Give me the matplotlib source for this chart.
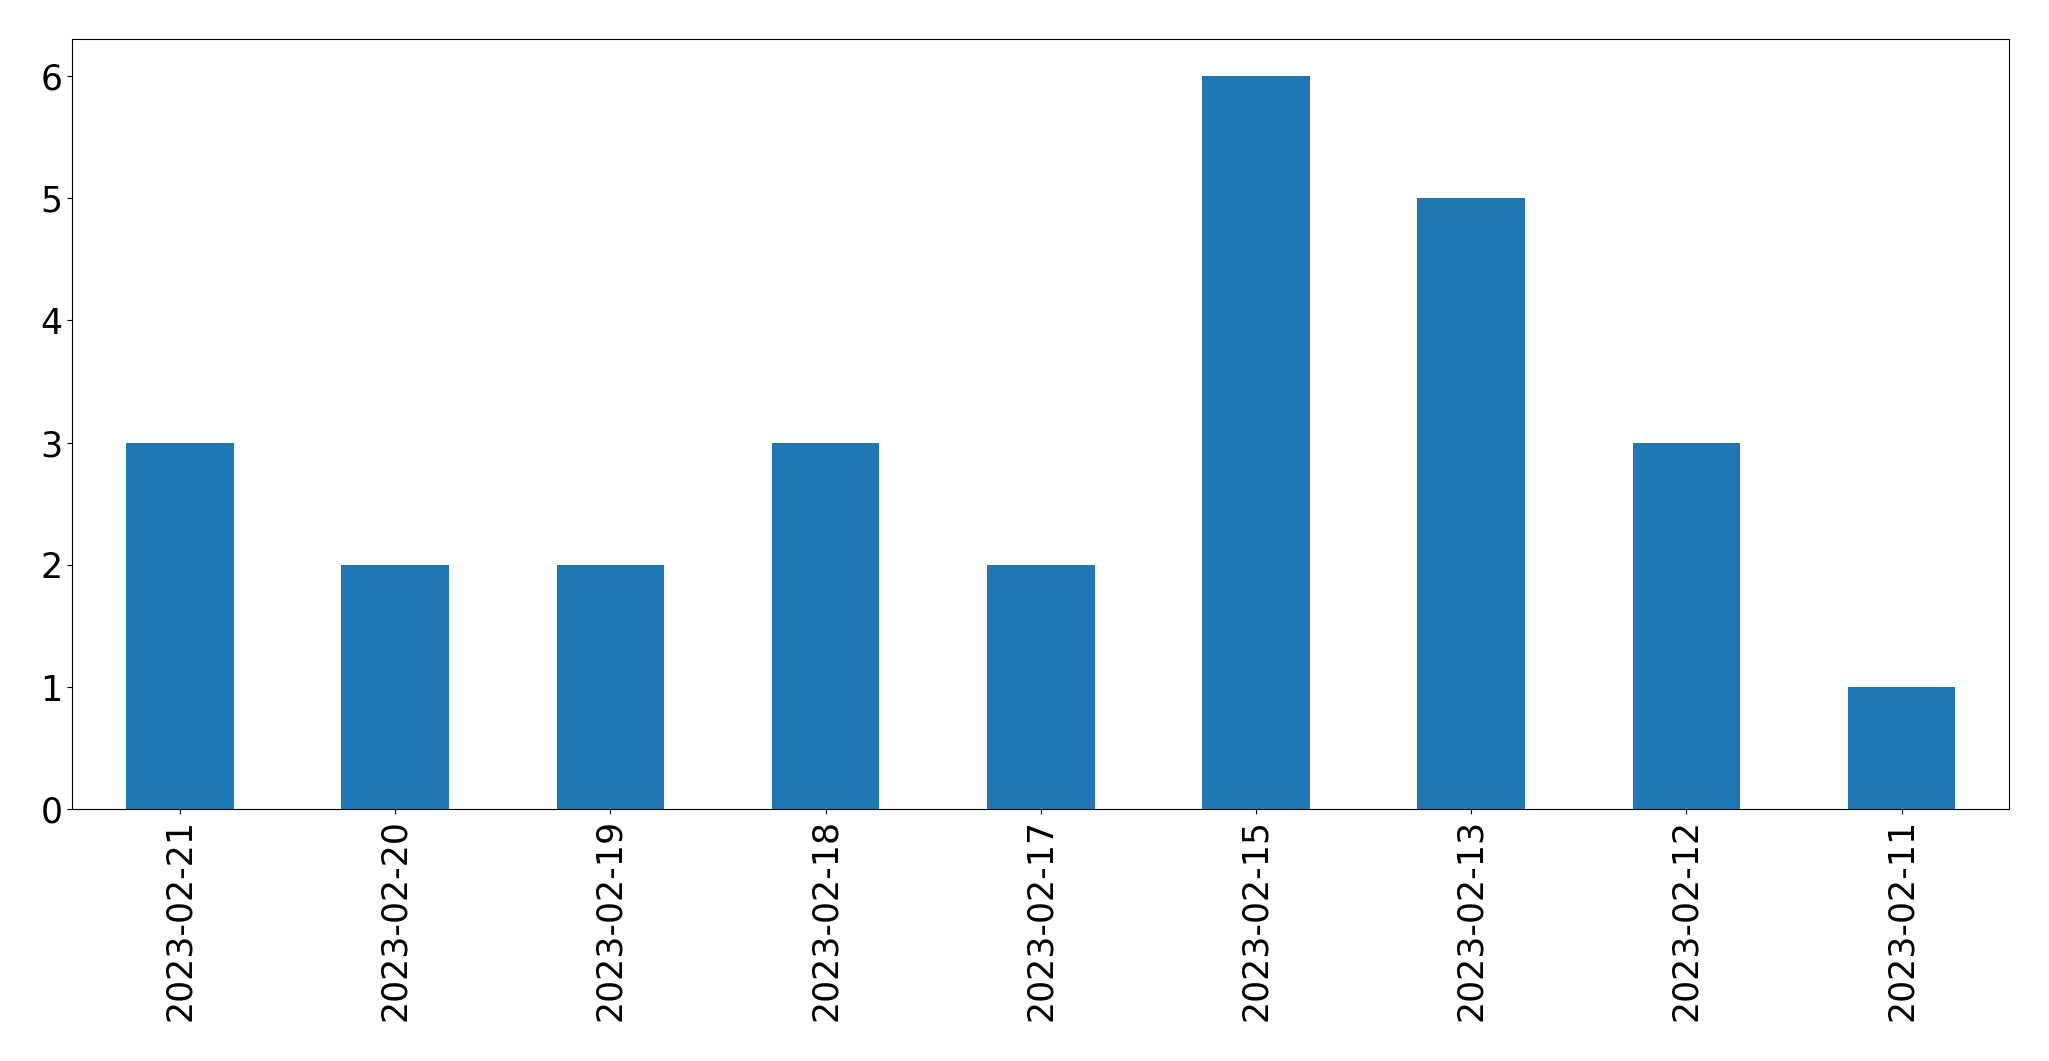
import pandas as pd
import matplotlib
matplotlib.use('Agg')
import matplotlib.pyplot as plt

# данные
dates = ['2023-02-21', '2023-02-20', '2023-02-19', '2023-02-18', '2023-02-17',
         '2023-02-15', '2023-02-13', '2023-02-12', '2023-02-11']
counts = [3, 2, 2, 3, 2, 6, 5, 3, 1]

s = pd.Series(counts, index=dates)

fig = plt.figure(figsize=(20.49, 10.61), dpi=100)
ax = fig.add_axes([0.0353, 0.2372, 0.9453, 0.7258])
s.plot.bar(ax=ax, color='#1f77b4', fontsize=25)

fig.savefig('out.png', dpi=100)
